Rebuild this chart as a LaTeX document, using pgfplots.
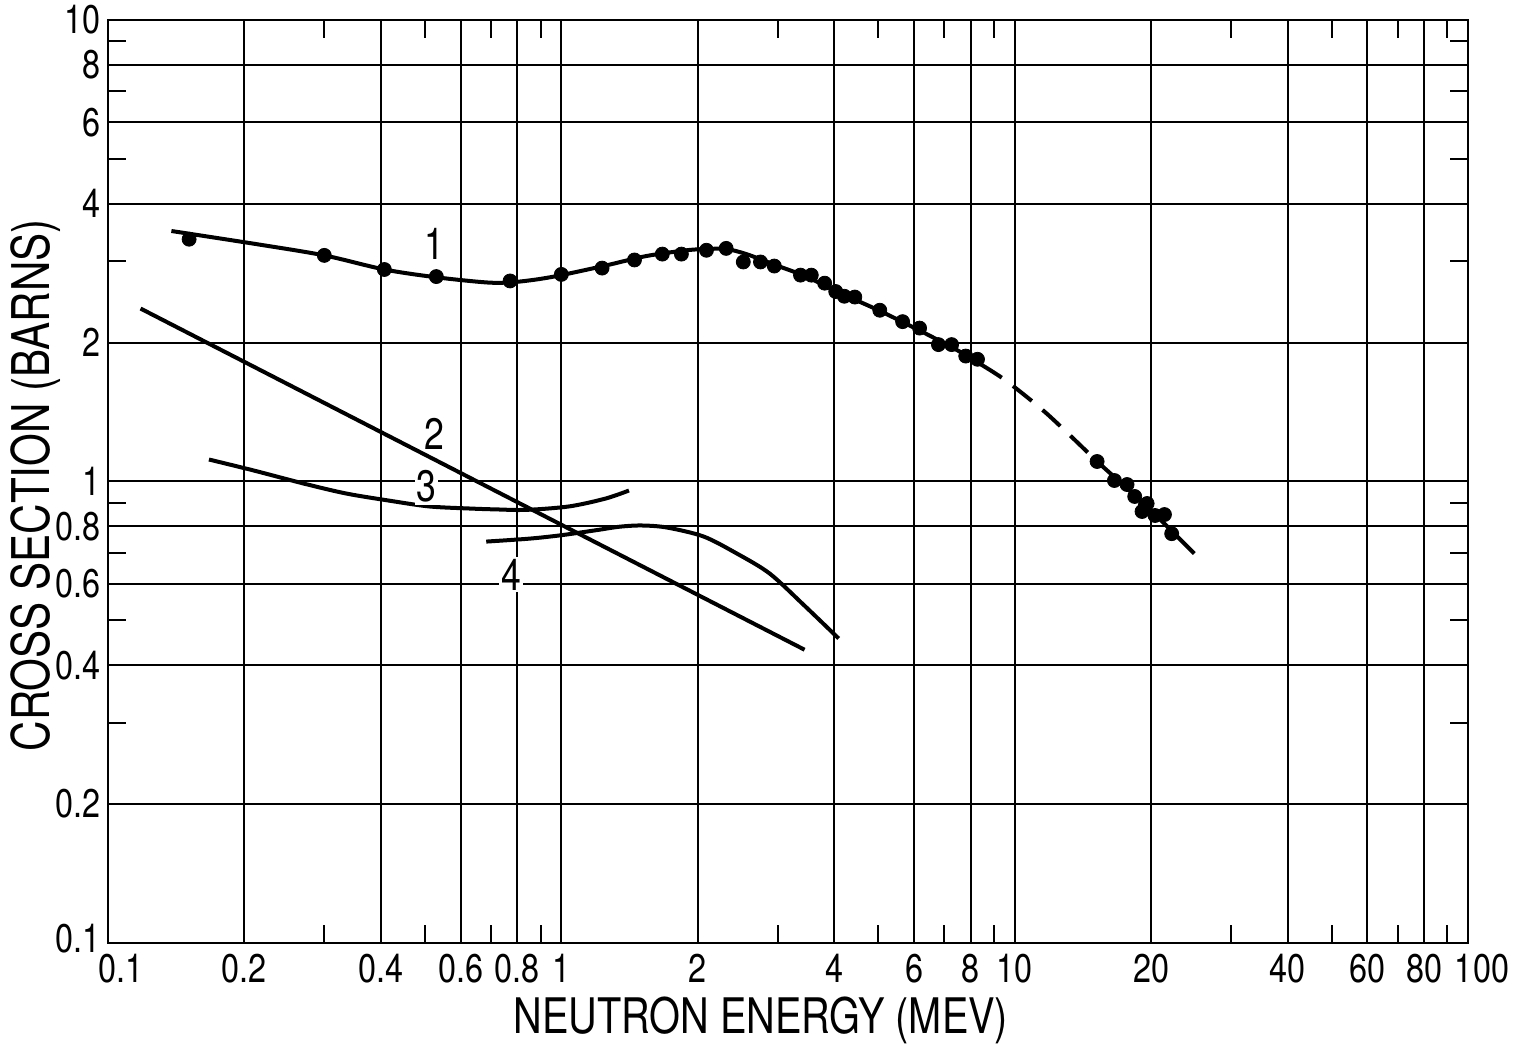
\documentclass[border=0pt]{standalone}
\usepackage{pgfplots}
\pgfplotsset{compat=1.18}
\usepackage{fontspec}
\setmainfont{TeX Gyre Heros}[FakeStretch=0.81]
\begin{document}
\begin{tikzpicture}
\useasboundingbox (-54pt,-52.5pt) rectangle (705.5pt,471.5pt);
\begin{axis}[
  at={(0,0)}, anchor=south west,
  scale only axis, width=680pt, height=461.5pt,
  xmode=log, ymode=log,
  xmin=0.1, xmax=100, ymin=0.1, ymax=10,
  xtick={0.1,0.2,0.4,0.6,0.8,1,2,4,6,8,10,20,40,60,80,100},
  xticklabels={{\kern13pt 0.1},0.2,0.4,0.6,0.8,1,2,4,6,8,10,20,40,60,80,{\kern14pt 100}},
  ytick={0.1,0.2,0.4,0.6,0.8,1,2,4,6,8,10},
  yticklabels={\raisebox{5pt}{0.1},0.2,0.4,0.6,0.8,1,2,4,6,8,10},
  minor xtick={0.3,0.5,0.7,0.9,3,5,7,9,30,50,70,90},
  minor ytick={0.3,0.5,0.7,0.9,3,5,7,9},
  grid=major,
  major grid style={black, line width=1pt},
  major tick length=0pt, minor tick length=9pt,
  tick align=inside,
  tick style={black, line width=1pt},
  axis line style={line width=1.4pt},
  ticklabel style={font=\fontsize{20}{20}\selectfont},
  xticklabel style={yshift=-2pt},
  xlabel={NEUTRON ENERGY (MEV)},
  ylabel={CROSS SECTION (BARNS)},
  xlabel style={font=\fontsize{24.5}{24.5}\selectfont,
    at={(axis description cs:0.480,0)}, anchor=center, yshift=-38.5pt},
  ylabel style={font=\fontsize{26}{26}\selectfont,
    at={(axis description cs:-0.053,0.496)}, anchor=center},
]
% curve 1, fitted line
\addplot [black, line width=2pt, smooth] coordinates {
  (0.138,3.49) (0.212,3.27) (0.300,3.09) (0.407,2.88) (0.530,2.77)
  (0.683,2.70) (0.771,2.70) (0.881,2.74) (1.0,2.80) (1.257,2.94)
  (1.54,3.08) (1.89,3.17) (2.09,3.19) (2.31,3.19) (2.56,3.11)
  (2.98,2.94) (3.47,2.78) (4.05,2.58) (4.96,2.36) (6.08,2.14)
  (7.44,1.93) (8.45,1.79)
};
\addplot [black, line width=2pt, smooth, dash pattern=on 12pt off 7pt] coordinates {
  (8.45,1.79) (9.60,1.65) (11.8,1.40) (15.2,1.105)
};
\addplot [black, line width=2pt] coordinates {
  (15.2,1.105) (19.6,0.883) (24.9,0.698)
};
% curve 1, measured points
\addplot [black, only marks, mark=*, mark size=3.5pt] coordinates {
  (0.151,3.35) (0.300,3.09) (0.407,2.88) (0.530,2.78) (0.771,2.72)
  (1.0,2.81) (1.23,2.90) (1.45,3.02) (1.67,3.11) (1.84,3.11)
  (2.09,3.17) (2.31,3.20) (2.52,2.99) (2.75,2.99) (2.95,2.93)
  (3.37,2.80) (3.56,2.80) (3.81,2.69) (4.03,2.58) (4.21,2.52)
  (4.44,2.51) (5.04,2.35) (5.66,2.22) (6.17,2.15) (6.79,1.98)
  (7.26,1.98) (7.80,1.87) (8.28,1.84)
  (15.2,1.105) (16.6,1.005) (17.7,0.985) (18.4,0.928) (19.4,0.883)
  (19.1,0.861) (19.6,0.896) (20.4,0.844) (21.4,0.848) (22.2,0.771)
};
% curve 2
\addplot [black, line width=2pt] coordinates {
  (0.118,2.37) (3.44,0.432)
};
% curve 3
\addplot [black, line width=2pt, smooth] coordinates {
  (0.167,1.116) (0.210,1.056) (0.270,0.99) (0.335,0.942) (0.417,0.909)
  (0.511,0.883) (0.626,0.874) (0.719,0.870) (0.837,0.868) (1.04,0.883)
  (1.25,0.918) (1.41,0.956)
};
% curve 4
\addplot [black, line width=2pt, smooth] coordinates {
  (0.683,0.741) (0.85,0.752) (1.0,0.765) (1.2,0.785) (1.34,0.798)
  (1.5,0.803) (1.71,0.795) (2.06,0.760) (2.44,0.698) (2.88,0.632)
  (3.42,0.541) (4.09,0.457)
};
\node [font=\fontsize{22}{22}\selectfont] at (axis cs:0.525,3.27) {1};
\node [font=\fontsize{22}{22}\selectfont, fill=white, inner sep=1pt] at (axis cs:0.525,1.27) {2};
\node [font=\fontsize{22}{22}\selectfont, fill=white, inner sep=1pt] at (axis cs:0.504,0.975) {3};
\node [font=\fontsize{22}{22}\selectfont, fill=white, inner sep=1pt] at (axis cs:0.776,0.628) {4};
\end{axis}
\end{tikzpicture}
\end{document}
